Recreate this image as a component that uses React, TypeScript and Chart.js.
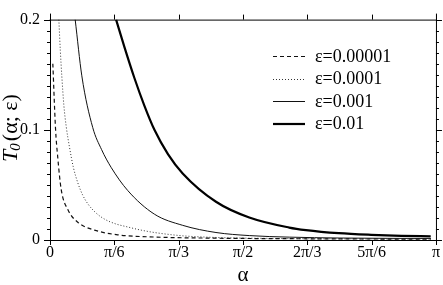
import React, { useEffect, useRef } from "react";
import { Chart, registerables } from "chart.js";

Chart.register(...registerables);

const PI = Math.PI;
const X_TICK_VALUES = [0, PI / 6, PI / 3, PI / 2, (2 * PI) / 3, (5 * PI) / 6, PI];
const X_TICK_LABELS = ["0", "π/6", "π/3", "π/2", "2π/3", "5π/6", "π"];
const Y_TICK_VALUES = [0, 0.1, 0.2];
const Y_TICK_LABELS = ["0", "0.1", "0.2"];
const Y_MINOR_STEP = 0.01;
const SERIES_LABELS = ["ε=0.00001", "ε=0.0001", "ε=0.001", "ε=0.01"];

// ε = 0.00001
const alphaA = [0.023, 0.045, 0.063, 0.091, 0.145, 0.226, 0.362, 0.551, 0.85, 1.31, 2.09, 2.62, 3.1];
const tA = [0.16, 0.101, 0.075, 0.046, 0.0276, 0.0161, 0.009, 0.0047, 0.0027, 0.0017, 0.0011, 0.0009, 0.0008];
// ε = 0.0001
const alphaB = [0.072, 0.084, 0.096, 0.113, 0.132, 0.159, 0.19, 0.226, 0.265, 0.307, 0.37, 0.443, 0.53, 0.633, 0.74, 0.85, 1.08, 1.35, 1.83, 2.62, 3.1];
const tB = [0.2, 0.172, 0.149, 0.122, 0.103, 0.084, 0.066, 0.052, 0.041, 0.033, 0.025, 0.019, 0.0148, 0.0118, 0.009, 0.0068, 0.0038, 0.0023, 0.0014, 0.001, 0.0009];
// ε = 0.001
const alphaC = [0.205, 0.259, 0.348, 0.42, 0.497, 0.632, 0.849, 1.08, 1.351, 1.622, 1.947, 2.36, 2.75, 3.1];
const tC = [0.2, 0.149, 0.102, 0.082, 0.066, 0.045, 0.0235, 0.0133, 0.0068, 0.004, 0.0026, 0.0018, 0.0015, 0.0014];
// ε = 0.01
const alphaD = [0.538, 0.606, 0.687, 0.768, 0.85, 0.96, 1.08, 1.351, 1.622, 1.947, 2.083, 2.35, 2.614, 2.86, 3.099];
const tD = [0.2, 0.175, 0.147, 0.122, 0.1, 0.078, 0.0604, 0.0347, 0.0204, 0.0113, 0.009, 0.0062, 0.0047, 0.0038, 0.0033];

const SERIF = "'Liberation Serif', 'DejaVu Serif', serif";

const STYLES = [
  { width: 1.2, dash: [4, 3], color: "#111" },
  { width: 1, dash: [1, 2], color: "#333" },
  { width: 1, dash: [] as number[], color: "#111" },
  { width: 2.2, dash: [] as number[], color: "#000" },
];

function toPoints(xs: number[], ys: number[]) {
  return xs.map((x, i) => ({ x, y: ys[i] }));
}

const framePlugin = {
  id: "frame",
  afterDraw(chart: any) {
    const { ctx, chartArea } = chart;
    const { left, right, top, bottom } = chartArea;
    const xs = chart.scales.x;
    const ys = chart.scales.y;
    ctx.save();
    ctx.strokeStyle = "#000";
    ctx.lineWidth = 1;
    ctx.setLineDash([]);
    ctx.beginPath();
    ctx.moveTo(left - 0.5, top + 0.5);
    ctx.lineTo(right + 0.5, top + 0.5);
    ctx.moveTo(left + 0.5, top - 6);
    ctx.lineTo(left + 0.5, bottom + 0.5);
    ctx.moveTo(left - 6, bottom + 0.5);
    ctx.lineTo(right + 4, bottom + 0.5);
    ctx.moveTo(right + 0.5, top - 6);
    ctx.lineTo(right + 0.5, bottom + 0.5);
    X_TICK_VALUES.forEach((v) => {
      const px = Math.round(xs.getPixelForValue(v)) + 0.5;
      ctx.moveTo(px, bottom);
      ctx.lineTo(px, bottom + 5);
      ctx.moveTo(px, top);
      ctx.lineTo(px, top - 5);
    });
    for (let i = 0; i <= 20; i++) {
      const v = i * Y_MINOR_STEP;
      const py = Math.round(ys.getPixelForValue(v)) + 0.5;
      const major = i % 10 === 0;
      const len = major ? 6 : 3;
      ctx.moveTo(left, py);
      ctx.lineTo(left - len, py);
      ctx.moveTo(right, py);
      ctx.lineTo(right + len, py);
    }
    ctx.stroke();

    // axis titles
    ctx.fillStyle = "#000";
    ctx.font = `21px ${SERIF}`;
    ctx.textAlign = "center";
    ctx.textBaseline = "middle";
    ctx.fillText("α", (left + right) / 2, 275);

    ctx.save();
    ctx.translate(10, 128);
    ctx.rotate(-Math.PI / 2);
    const fT = `italic 22px ${SERIF}`;
    const fSub = `italic 15px ${SERIF}`;
    const fRest = `22px ${SERIF}`;
    ctx.font = fT;
    const wT = ctx.measureText("T").width;
    ctx.font = fSub;
    const wS = ctx.measureText("0").width;
    ctx.font = fRest;
    const rest = "(α; ε)";
    const wR = ctx.measureText(rest).width;
    const total = wT + wS + wR + 1;
    let cx = -total / 2;
    ctx.textAlign = "left";
    ctx.textBaseline = "alphabetic";
    ctx.font = fT;
    ctx.fillText("T", cx, 7);
    cx += wT - 1;
    ctx.font = fSub;
    ctx.fillText("0", cx, 10);
    cx += wS + 2;
    ctx.font = fRest;
    ctx.fillText(rest, cx, 7);
    ctx.restore();

    // legend
    const rowY = [56, 78.5, 101, 123.5];
    ctx.font = `18px ${SERIF}`;
    ctx.textAlign = "left";
    ctx.textBaseline = "middle";
    SERIES_LABELS.forEach((lab, i) => {
      const st = STYLES[i];
      ctx.beginPath();
      ctx.strokeStyle = st.color;
      ctx.lineWidth = st.width;
      ctx.setLineDash(st.dash);
      const y = Math.round(rowY[i]) + (st.width < 2 ? 0.5 : 0);
      ctx.moveTo(273, y);
      ctx.lineTo(305, y);
      ctx.stroke();
      ctx.setLineDash([]);
      ctx.fillStyle = "#000";
      ctx.fillText(lab, 315, rowY[i] + 1);
    });
    ctx.restore();
  },
};

export default function App() {
  const ref = useRef<HTMLCanvasElement | null>(null);
  useEffect(() => {
    document.body.style.margin = "0";
    const canvas = ref.current;
    if (!canvas) return;
    const series = [
      [alphaA, tA],
      [alphaB, tB],
      [alphaC, tC],
      [alphaD, tD],
    ];
    const chart = new Chart(canvas, {
      type: "line",
      data: {
        datasets: series.map(([xs, ys], i) => ({
          label: SERIES_LABELS[i],
          data: toPoints(xs, ys),
          borderColor: STYLES[i].color,
          borderWidth: STYLES[i].width,
          borderDash: STYLES[i].dash,
          pointRadius: 0,
          fill: false,
          cubicInterpolationMode: "monotone" as const,
        })),
      },
      options: {
        responsive: false,
        animation: false,
        devicePixelRatio: 1,
        layout: { padding: { top: 7, right: 6, left: 0, bottom: 0 } },
        plugins: { legend: { display: false }, tooltip: { enabled: false } },
        scales: {
          x: {
            type: "linear",
            min: 0,
            max: PI,
            grid: { display: false, drawTicks: false },
            border: { display: false },
            afterBuildTicks: (scale: any) => {
              scale.ticks = X_TICK_VALUES.map((v) => ({ value: v }));
            },
            afterFit: (scale: any) => {
              scale.height = 45;
            },
            ticks: {
              autoSkip: false,
              maxRotation: 0,
              padding: 3,
              color: "#000",
              font: { family: SERIF, size: 16 },
              callback: (_v: any, i: number) => X_TICK_LABELS[i],
            },
          },
          y: {
            type: "linear",
            min: 0,
            max: 0.2,
            grid: { display: false, drawTicks: false },
            border: { display: false },
            afterBuildTicks: (scale: any) => {
              scale.ticks = Y_TICK_VALUES.map((v) => ({ value: v }));
            },
            afterFit: (scale: any) => {
              scale.width = 50;
            },
            ticks: {
              padding: 10,
              color: "#000",
              font: { family: SERIF, size: 16 },
              callback: (_v: any, i: number) => Y_TICK_LABELS[i],
            },
          },
        },
      },
      plugins: [framePlugin],
    });
    return () => chart.destroy();
  }, []);
  return (
    <div style={{ width: 443, height: 285, background: "#fff" }}>
      <canvas ref={ref} width={443} height={285} style={{ display: "block" }} />
    </div>
  );
}
